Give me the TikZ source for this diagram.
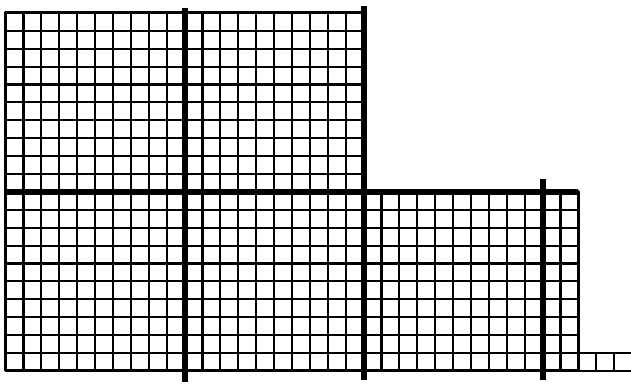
\documentclass[tikz,border=0pt]{standalone}
\usepackage{tikz}

\begin{document}
\begin{tikzpicture}[x=0.5cm, y=0.5cm,
  cell/.style={line width=1.7pt, step=1},
  rim/.style={line width=2.5pt, line join=round},
  tenline/.style={line width=4.8pt}]
  \useasboundingbox (-0.31,-0.73) rectangle (34.94,20.72);
  % two hundreds on top
  \draw[cell] (0,10) grid (20,20);
  % three hundreds and two tens below
  \draw[cell] (0,0) grid (32,10);
  % three units
  \draw[cell] (32,0) grid (35,1);
  % outline
  \draw[rim] (20,20) -- (0,20) -- (0,0) -- (32,0);
  \draw[rim] (20,10) -- (32,10) -- (32,0);
  % block dividers
  \draw[tenline] (0,10) -- (32,10);
  \draw[tenline] (10,-0.6) -- (10,20.3);
  \draw[tenline] (20,-0.5) -- (20,20.4);
  \draw[tenline] (30,-0.5) -- (30,10.7);
\end{tikzpicture}
\end{document}
